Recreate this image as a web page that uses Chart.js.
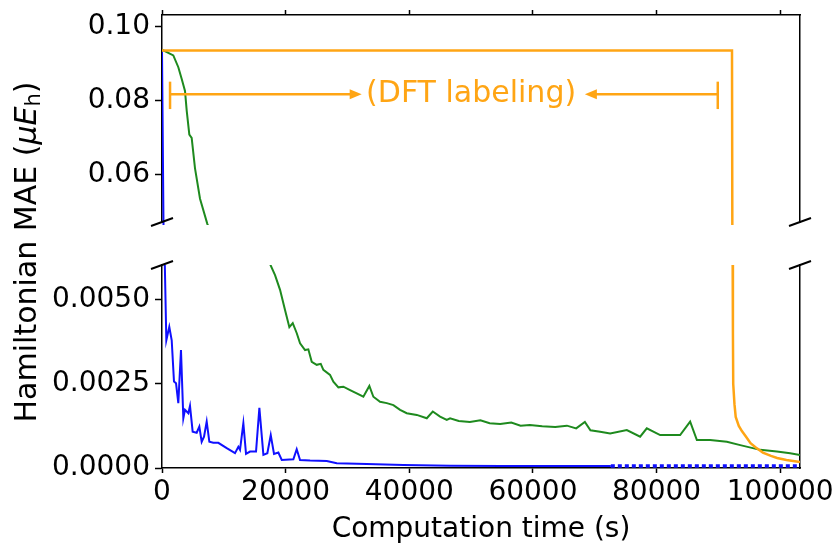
<!DOCTYPE html>
<html><head><meta charset="utf-8">
<script src="https://cdn.jsdelivr.net/npm/chart.js@4"></script>
<style>
html,body{margin:0;padding:0;background:#fff;}
#wrap{position:relative;width:838px;height:550px;background:#fff;}
canvas{position:absolute;left:0;top:0;}
</style></head><body>
<div id="wrap">
<canvas id="cBottom" width="838" height="550"></canvas>
<canvas id="cTop" width="838" height="235"></canvas>
</div>
<script>
// ---------- data (computation time in s, Hamiltonian MAE) ----------
const blueTime = [0, 450, 700, 1180, 1570, 1940, 2270, 2640, 3070, 3450, 3720, 4260, 4530, 4960, 5610, 6040, 6420, 6800, 7230, 7660, 8300, 9110, 10470, 11810, 12350, 12620, 13160, 13590, 14240, 15210, 15750, 16400, 17040, 17590, 18120, 18820, 19370, 21250, 21790, 22330, 23950, 26650, 28270, 33120, 39050, 46600, 55000, 65000, 72600];
const blueMAE  = [0.0936, 0.0061, 0.0038, 0.0042, 0.0038, 0.00257, 0.00252, 0.00193, 0.00351, 0.00148, 0.00173, 0.00163, 0.00185, 0.00108, 0.00105, 0.00123, 0.00078, 0.00093, 0.00138, 0.00078, 0.00075, 0.00075, 0.00059, 0.00044, 0.00063, 0.00054, 0.00133, 0.00042, 0.00049, 0.00049, 0.00179, 0.00039, 0.00044, 0.00098, 0.00042, 0.00046, 0.00024, 0.00026, 0.00056, 0.00024, 0.00022, 0.00021, 0.00014, 0.00012, 0.00009, 0.00007, 0.00006, 0.00006, 0.00006];
const blueDotTime = [72600, 103200];
const blueDotMAE  = [0.00006, 0.00006];

const greenTime = [0, 210, 1830, 2640, 3190, 3720, 4000, 4420, 4800, 5340, 6150, 7330, 17475, 18285, 19095, 19900, 20600, 21150, 21800, 22330, 23140, 23670, 24220, 25030, 25680, 26100, 27180, 27720, 28530, 29340, 30420, 31500, 32570, 33540, 34190, 35270, 36360, 37430, 38510, 39590, 41210, 42830, 43800, 44980, 46060, 46600, 48000, 49800, 51500, 53000, 54700, 56500, 58000, 59500, 61500, 63600, 65500, 67000, 68400, 69300, 70870, 72490, 75190, 77340, 78420, 80580, 83810, 85430, 86520, 88660, 91370, 93530, 96760, 99460, 101610, 103200];
const greenMAE  = [0.0936, 0.09364, 0.0923, 0.0891, 0.0859, 0.0827, 0.0773, 0.0709, 0.0700, 0.0618, 0.0536, 0.0468, 0.00607, 0.00574, 0.00530, 0.00470, 0.00419, 0.00431, 0.00401, 0.00371, 0.00351, 0.00353, 0.00316, 0.00307, 0.00310, 0.00292, 0.00277, 0.00257, 0.00240, 0.00242, 0.00232, 0.00222, 0.00212, 0.00244, 0.00212, 0.00197, 0.00193, 0.00187, 0.00173, 0.00163, 0.00158, 0.00148, 0.00168, 0.00153, 0.00143, 0.00148, 0.00140, 0.00137, 0.00142, 0.00133, 0.00131, 0.00135, 0.00126, 0.00128, 0.00124, 0.00122, 0.00126, 0.00118, 0.00137, 0.00112, 0.00108, 0.00103, 0.00113, 0.00093, 0.00118, 0.00098, 0.00098, 0.00138, 0.00083, 0.00083, 0.00078, 0.00068, 0.00054, 0.00049, 0.00044, 0.00039];

const orangeTime = [0, 92200, 92300, 92350, 92400, 92600, 92800, 93300, 93800, 94500, 95200, 96000, 97200, 98500, 99500, 101000, 103200];
const orangeMAE  = [0.0936, 0.0936, 0.0065, 0.0040, 0.0025, 0.0019, 0.00152, 0.00125, 0.00110, 0.00092, 0.00074, 0.00062, 0.00046, 0.00036, 0.00030, 0.00024, 0.00018];

const xTickValues = [0, 20000, 40000, 60000, 80000, 100000];
const xMax = 103200;
const topRange = [0.0473, 0.1032];
const topTickValues = [0.06, 0.08, 0.10];
const bottomRange = [0, 0.00604];
const bottomTickValues = [0, 0.0025, 0.005];

// DFT labeling annotation (data coordinates)
const dftLabel = "(DFT labeling)";
const dftBarTimes = [1300, 89900];
const dftArrowTips = [32300, 68400];
const dftLabelTime = 50000;
const dftArrowMAE = 0.0818;
const dftBarMAE = [0.0852, 0.0778];

const xTitle = "Computation time (s)";

// ---------- helpers ----------
const zip = (xs, ys) => xs.map((x, i) => ({x, y: ys[i]}));
const FONT = "DejaVu Sans";
const BLUE = "#1010ff", GREEN = "#1e8a1e", ORANGE = "#ffa514";

function makeDatasets() {
  return [
    {data: zip(orangeTime, orangeMAE), borderColor: ORANGE, borderWidth: 2.5, order: 1},
    {data: zip(greenTime, greenMAE), borderColor: GREEN, borderWidth: 2, order: 2},
    {data: zip(blueTime, blueMAE), borderColor: BLUE, borderWidth: 2, order: 3},
    {data: zip(blueDotTime, blueDotMAE), borderColor: BLUE, borderWidth: 3.5, borderDash: [4, 3], order: 4}
  ].map(d => Object.assign(d, {pointRadius: 0, tension: 0, fill: false,
        clip: {left: 0, right: 0, top: 0, bottom: 3}, showLine: true}));
}

const setTicks = vals => s => { s.ticks = vals.map(v => ({value: v})); };
const noPad = (w, h) => s => {
  if (w !== undefined) s.width = w;
  if (h !== undefined) s.height = h;
  s.paddingLeft = 0; s.paddingRight = 0; s.paddingTop = 0; s.paddingBottom = 0;
};

const breakMarks = (where) => ({
  id: 'breaks',
  afterDraw(chart) {
    const {ctx, chartArea: a} = chart;
    const y = where === 'bottom' ? a.bottom : a.top;
    ctx.save();
    ctx.strokeStyle = '#000';
    ctx.lineWidth = 2;
    [a.left, a.right].forEach(x => {
      ctx.beginPath();
      ctx.moveTo(x - 11, y + 4);
      ctx.lineTo(x + 11, y - 4);
      ctx.stroke();
    });
    ctx.restore();
  }
});

const axisBorder = {display: true, color: '#000', width: 1.5};

// ---------- top panel ----------
const dftPlugin = {
  id: 'dft',
  afterDatasetsDraw(chart) {
    const {ctx} = chart;
    const xs = chart.scales.x, ys = chart.scales.y;
    const px = v => xs.getPixelForValue(v);
    const py = v => ys.getPixelForValue(v);
    const yA = py(dftArrowMAE);
    ctx.save();
    ctx.strokeStyle = ORANGE;
    ctx.fillStyle = ORANGE;
    ctx.lineWidth = 2.5;
    dftBarTimes.forEach(t => {
      ctx.beginPath();
      ctx.moveTo(px(t), py(dftBarMAE[0]));
      ctx.lineTo(px(t), py(dftBarMAE[1]));
      ctx.stroke();
    });
    [[dftBarTimes[0], dftArrowTips[0]], [dftBarTimes[1], dftArrowTips[1]]].forEach(([from, tip]) => {
      const x0 = px(from), x1 = px(tip);
      const dir = Math.sign(x1 - x0);
      ctx.beginPath();
      ctx.moveTo(x0, yA);
      ctx.lineTo(x1 - dir * 8, yA);
      ctx.stroke();
      ctx.beginPath();
      ctx.moveTo(x1, yA);
      ctx.lineTo(x1 - dir * 12, yA - 5);
      ctx.lineTo(x1 - dir * 12, yA + 5);
      ctx.closePath();
      ctx.fill();
    });
    ctx.font = `30px "${FONT}"`;
    ctx.textAlign = 'center';
    ctx.textBaseline = 'middle';
    ctx.fillText(dftLabel, px(dftLabelTime), yA);
    ctx.restore();
  }
};

new Chart(document.getElementById('cTop'), {
  type: 'line',
  data: {datasets: makeDatasets()},
  options: {
    responsive: false, devicePixelRatio: 1, animation: false,
    layout: {padding: {left: 0, right: 38, top: 0, bottom: 13}},
    plugins: {legend: {display: false}, tooltip: {enabled: false}},
    scales: {
      x: {
        type: 'linear', position: 'top', min: 0, max: xMax,
        afterBuildTicks: setTicks(xTickValues),
        ticks: {display: false},
        grid: {drawOnChartArea: false, tickLength: 5, tickColor: '#000', tickWidth: 1.5},
        border: axisBorder,
        afterFit: noPad(undefined, 15)
      },
      y: {
        type: 'linear', position: 'left', min: topRange[0], max: topRange[1],
        afterBuildTicks: setTicks(topTickValues),
        ticks: {color: '#000', padding: 5, font: {family: FONT, size: 28}, callback: v => v.toFixed(2)},
        grid: {drawOnChartArea: false, tickLength: 7, tickColor: '#000', tickWidth: 1.5},
        border: axisBorder,
        afterFit: noPad(162)
      },
      y2: {
        type: 'linear', position: 'right', display: true, min: topRange[0], max: topRange[1],
        ticks: {display: false},
        grid: {drawOnChartArea: false, drawTicks: false},
        border: axisBorder,
        afterFit: noPad(0)
      }
    }
  },
  plugins: [dftPlugin, breakMarks('bottom')]
});

// ---------- bottom panel ----------
const yTitlePlugin = {
  id: 'ytitle',
  afterDraw(chart) {
    const {ctx} = chart;
    const parts = [
      {t: 'Hamiltonian MAE (', f: `30px "${FONT}"`, dy: 0},
      {t: '\u03BCE', f: `italic 30px "${FONT}"`, dy: 0},
      {t: 'h', f: `21px "${FONT}"`, dy: 7},
      {t: ')', f: `30px "${FONT}"`, dy: 0}
    ];
    ctx.save();
    let total = 0;
    parts.forEach(p => { ctx.font = p.f; p.w = ctx.measureText(p.t).width; total += p.w; });
    ctx.translate(28, 252);
    ctx.rotate(-Math.PI / 2);
    ctx.fillStyle = '#000';
    ctx.textBaseline = 'middle';
    ctx.textAlign = 'left';
    let x = -total / 2;
    parts.forEach(p => { ctx.font = p.f; ctx.fillText(p.t, x, p.dy); x += p.w; });
    ctx.restore();
  }
};

new Chart(document.getElementById('cBottom'), {
  type: 'line',
  data: {datasets: makeDatasets()},
  options: {
    responsive: false, devicePixelRatio: 1, animation: false,
    layout: {padding: {left: 0, right: 38, top: 265, bottom: 0}},
    plugins: {legend: {display: false}, tooltip: {enabled: false}},
    scales: {
      x: {
        type: 'linear', position: 'bottom', min: 0, max: xMax,
        afterBuildTicks: setTicks(xTickValues),
        ticks: {color: '#000', padding: 3, maxRotation: 0, autoSkip: false,
                font: {family: FONT, size: 28}, callback: v => String(v)},
        grid: {drawOnChartArea: false, tickLength: 5, tickColor: '#000', tickWidth: 1.5},
        border: axisBorder,
        title: {display: true, text: xTitle, color: '#000', font: {family: FONT, size: 28},
                padding: {top: 0, bottom: 3}},
        afterFit: noPad(undefined, 82)
      },
      y: {
        type: 'linear', position: 'left', min: bottomRange[0], max: bottomRange[1],
        afterBuildTicks: setTicks(bottomTickValues),
        ticks: {color: '#000', padding: 5, font: {family: FONT, size: 28}, callback: v => v.toFixed(4)},
        grid: {drawOnChartArea: false, tickLength: 7, tickColor: '#000', tickWidth: 1.5},
        border: axisBorder,
        afterFit: noPad(162)
      },
      y2: {
        type: 'linear', position: 'right', display: true, min: bottomRange[0], max: bottomRange[1],
        ticks: {display: false},
        grid: {drawOnChartArea: false, drawTicks: false},
        border: axisBorder,
        afterFit: noPad(0)
      }
    }
  },
  plugins: [yTitlePlugin, breakMarks('top')]
});
</script>
</body></html>
